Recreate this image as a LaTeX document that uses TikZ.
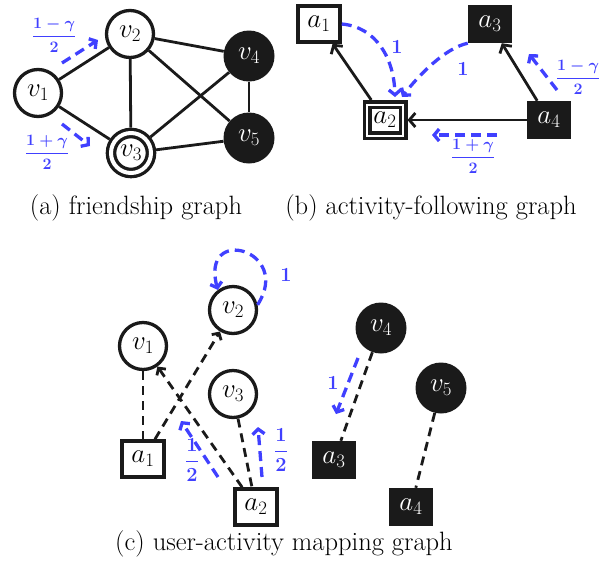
\RequirePackage{fix-cm}
\documentclass[tikz,border=0pt]{standalone}
\usepackage{amsmath,bm}
\usetikzlibrary{arrows.meta}
\definecolor{myblue}{RGB}{64,64,255}
\definecolor{myblack}{RGB}{26,26,26}
\tikzset{
  every node/.style={inner sep=0pt},
  lbl/.style={font=\fontsize{27}{30}\selectfont},
  ucirc/.style={lbl, circle, draw=myblack, line width=3.3pt, minimum size=47pt, fill=white},
  dcirc/.style={lbl, circle, draw=myblack, fill=white, line width=3.3pt, double=white, double distance=4pt, minimum size=40pt, outer sep=5.3pt},
  bcirc/.style={lbl, circle, fill=myblack, text=white, minimum size=51pt},
  ubox/.style={lbl, rectangle, draw=myblack, line width=3.5pt, minimum width=42pt, minimum height=36pt, fill=white},
  dbox/.style={lbl, rectangle, draw=myblack, fill=white, line width=3.5pt, double=white, double distance=2pt, minimum width=36pt, minimum height=31pt, outer sep=4.5pt},
  bbox/.style={lbl, rectangle, fill=myblack, text=white, minimum width=44pt, minimum height=38pt},
  gedge/.style={draw=myblack, line width=2.8pt},
  farrow/.style={gedge, -{Straight Barb[length=6pt,width=14pt]}},
  mline/.style={draw=myblack, line width=2.8pt, dash pattern=on 9pt off 6pt},
  marrow/.style={mline, -{Straight Barb[length=5pt,width=11pt]}},
  barrow/.style={draw=myblue, line width=3.3pt, dash pattern=on 10pt off 6pt, -{Straight Barb[length=5pt,width=12pt]}},
  fraclbl/.style={text=myblue, font=\boldmath\fontsize{16}{19}\selectfont},
  halflbl/.style={text=myblue, font=\boldmath\fontsize{20}{23}\selectfont},
  onelbl/.style={text=myblue, font=\boldmath\fontsize{20}{24}\selectfont},
  captxt/.style={font=\fontsize{26.5}{30}\selectfont},
}
\begin{document}
\begin{tikzpicture}[x=1pt,y=-1pt]
\useasboundingbox (0,0) rectangle (608,574);
% (a) friendship graph
\node[ucirc] (v1) at (38,93) {$v_1$};
\node[ucirc] (v2) at (130,34) {$v_2$};
\node[dcirc] (v3) at (131,153) {$v_3$};
\node[bcirc] (v4) at (249,56) {$v_4$};
\node[bcirc] (v5) at (249,138) {$v_5$};
\draw[gedge] (v1) -- (v2);
\draw[gedge] (v1) -- (v3);
\draw[gedge] (v2) -- (v3);
\draw[gedge] (v2) -- (v4);
\draw[gedge] (v2) -- (v5);
\draw[gedge] (v3) -- (v4);
\draw[gedge] (v3) -- (v5);
\draw[gedge] (v4) -- (v5);
\draw[barrow] (62,63) -- (98,40);
\draw[barrow] (62,124) -- (90,146);
\node[fraclbl] (fa1) at (54,35) {$\dfrac{1-\gamma}{2}$};
\node[fraclbl] (fa2) at (47,152) {$\dfrac{1+\gamma}{2}$};
\node[captxt] (capa) at (136,208) {(a) friendship graph};
% (b) activity-following graph
\node[ubox] (a1) at (319,24) {$a_1$};
\node[bbox] (a3) at (490,24) {$a_3$};
\node[dbox] (a2) at (385,120) {$a_2$};
\node[bbox] (a4) at (549,120) {$a_4$};
\draw[farrow] (a2) -- (a1);
\draw[farrow] (a4) -- (a2);
\draw[farrow] (a4) -- (a3);
\draw[barrow] (a1.east) .. controls (376,27) and (394,58) .. (395,97);
\draw[barrow] (a3.south west) .. controls (445,48) and (418,76) .. (402,97);
\draw[barrow] (557,90) -- (529,54);
\draw[barrow] (497,135) -- (432,135);
\node[onelbl] (l1) at (397,47) {$1$};
\node[onelbl] (l2) at (463,69) {$1$};
\node[fraclbl] (fb1) at (578,77) {$\dfrac{1-\gamma}{2}$};
\node[fraclbl] (fb2) at (473,156) {$\dfrac{1+\gamma}{2}$};
\node[captxt] (capb) at (431,208) {(b) activity-following graph};
% (c) user-activity mapping graph
\node[ucirc] (c1) at (143,346) {$v_1$};
\node[ucirc] (c2) at (233,310) {$v_2$};
\node[ucirc] (c3) at (233,394) {$v_3$};
\node[bcirc] (c4) at (381,328) {$v_4$};
\node[bcirc] (c5) at (441,388) {$v_5$};
\node[ubox] (b1) at (143,459) {$a_1$};
\node[ubox] (b2) at (256,507) {$a_2$};
\node[bbox] (b3) at (334,460) {$a_3$};
\node[bbox] (b4) at (411,507) {$a_4$};
\draw[mline] (c1) -- (b1);
\draw[marrow] (b1) -- (c2);
\draw[marrow] (b2) -- (c1);
\draw[mline] (c3) -- (b2);
\draw[mline] (c4) -- (b3);
\draw[mline] (c5) -- (b4);
\draw[barrow] (c2.12) .. controls (293,250) and (200,224) .. (c2.127);
\draw[barrow] (218,477) -- (181,421);
\draw[barrow] (262,477) -- (258,427);
\draw[barrow] (358,358) -- (336,414);
\node[onelbl] (l3) at (286,275) {$1$};
\node[onelbl] (l4) at (333,383) {$1$};
\node[halflbl] (fc1) at (192,460) {$\dfrac{1}{2}$};
\node[halflbl] (fc2) at (281,450) {$\dfrac{1}{2}$};
\node[captxt] (capc) at (284,544) {(c) user-activity mapping graph};
\end{tikzpicture}
\end{document}
